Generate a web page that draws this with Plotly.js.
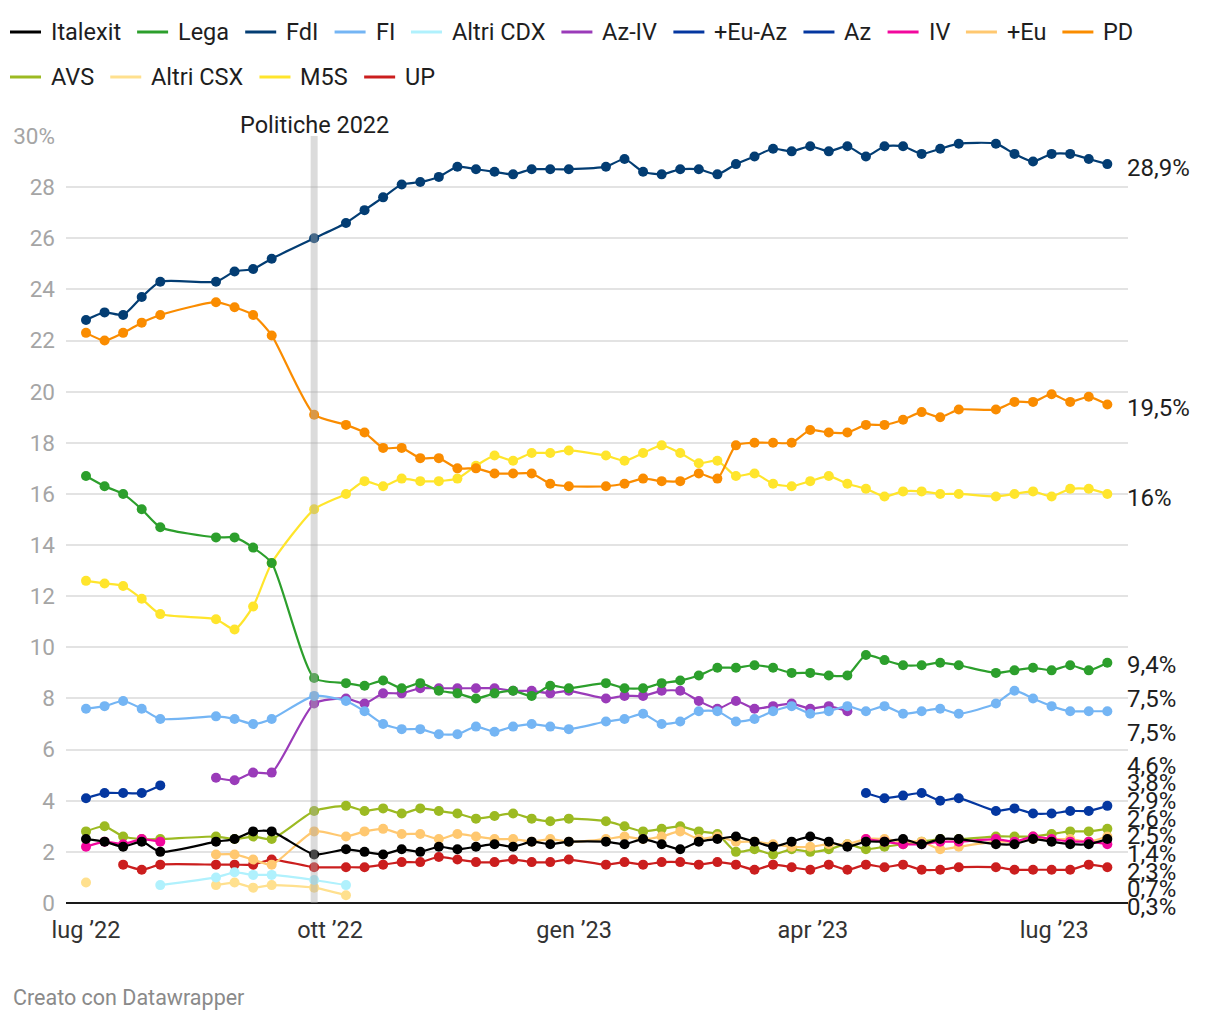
<!DOCTYPE html>
<html><head><meta charset="utf-8">
<script src="https://cdn.plot.ly/plotly-3.0.1.min.js"></script>
<style>body{margin:0;background:#fff}#chart{width:1220px;height:1020px}</style>
</head><body><div id="chart"></div>
<script>
const _ = null;
const dates = [
 '2022-07-01','2022-07-08','2022-07-15','2022-07-22','2022-07-29','2022-08-19','2022-08-26','2022-09-02','2022-09-09','2022-09-25',
 '2022-10-07','2022-10-14','2022-10-21','2022-10-28','2022-11-04','2022-11-11','2022-11-18','2022-11-25','2022-12-02','2022-12-09','2022-12-16','2022-12-23','2022-12-30',
 '2023-01-13','2023-01-20','2023-01-27','2023-02-03','2023-02-10','2023-02-17','2023-02-24','2023-03-03',
 '2023-03-10','2023-03-17','2023-03-24','2023-03-31','2023-04-07','2023-04-14','2023-04-21','2023-04-28','2023-05-05','2023-05-12','2023-05-19','2023-05-26',
 '2023-06-09','2023-06-16','2023-06-23','2023-06-30','2023-07-07','2023-07-14','2023-07-21'];

const italexit = [2.5,2.4,2.2,2.4,2.0,2.4,2.5,2.8,2.8,1.9, 2.1,2.0,1.9,2.1,2.0,2.2,2.1,2.2,2.3,2.2,2.4,2.3,2.4, 2.4,2.3,2.5,2.3,2.1,2.4,2.5,2.6, 2.4,2.2,2.4,2.6,2.4,2.2,2.4,2.4,2.5,2.3,2.5,2.5, 2.3,2.3,2.5,2.4,2.3,2.3,2.5];
const lega = [16.7,16.3,16.0,15.4,14.7,14.3,14.3,13.9,13.3,8.8, 8.6,8.5,8.7,8.4,8.6,8.3,8.2,8.0,8.2,8.3,8.1,8.5,8.4, 8.6,8.4,8.4,8.6,8.7,8.9,9.2,9.2, 9.3,9.2,9.0,9.0,8.9,8.9,9.7,9.5,9.3,9.3,9.4,9.3, 9.0,9.1,9.2,9.1,9.3,9.1,9.4];
const fdi = [22.8,23.1,23.0,23.7,24.3,24.3,24.7,24.8,25.2,26.0, 26.6,27.1,27.6,28.1,28.2,28.4,28.8,28.7,28.6,28.5,28.7,28.7,28.7, 28.8,29.1,28.6,28.5,28.7,28.7,28.5,28.9, 29.2,29.5,29.4,29.6,29.4,29.6,29.2,29.6,29.6,29.3,29.5,29.7, 29.7,29.3,29.0,29.3,29.3,29.1,28.9];
const fi = [7.6,7.7,7.9,7.6,7.2,7.3,7.2,7.0,7.2,8.1, 7.9,7.5,7.0,6.8,6.8,6.6,6.6,6.9,6.7,6.9,7.0,6.9,6.8, 7.1,7.2,7.4,7.0,7.1,7.5,7.5,7.1, 7.2,7.5,7.7,7.4,7.5,7.7,7.5,7.7,7.4,7.5,7.6,7.4, 7.8,8.3,8.0,7.7,7.5,7.5,7.5];
const altriCdx = [_,_,_,_,0.7,1.0,1.2,1.1,1.1,0.9, 0.7,_,_,_,_,_,_,_,_,_,_,_,_, _,_,_,_,_,_,_,_, _,_,_,_,_,_,_,_,_,_,_,_, _,_,_,_,_,_,_];
const azIv = [_,_,_,_,_,4.9,4.8,5.1,5.1,7.8, 8.0,7.8,8.2,8.2,8.4,8.4,8.4,8.4,8.4,8.3,8.3,8.2,8.3, 8.0,8.1,8.1,8.3,8.3,7.9,7.6,7.9, 7.6,7.7,7.8,7.6,7.7,7.5,_,_,_,_,_,_, _,_,_,_,_,_,_];
const euAz = [4.1,4.3,4.3,4.3,4.6,_,_,_,_,_, _,_,_,_,_,_,_,_,_,_,_,_,_, _,_,_,_,_,_,_,_, _,_,_,_,_,_,_,_,_,_,_,_, _,_,_,_,_,_,_];
const az = [_,_,_,_,_,_,_,_,_,_, _,_,_,_,_,_,_,_,_,_,_,_,_, _,_,_,_,_,_,_,_, _,_,_,_,_,_,4.3,4.1,4.2,4.3,4.0,4.1, 3.6,3.7,3.5,3.5,3.6,3.6,3.8];
const iv = [2.2,2.4,2.3,2.5,2.4,_,_,_,_,_, _,_,_,_,_,_,_,_,_,_,_,_,_, _,_,_,_,_,_,_,_, _,_,_,_,_,_,2.5,2.4,2.3,2.3,2.4,2.4, 2.5,2.4,2.6,2.5,2.4,2.4,2.3];
const piuEu = [_,_,_,_,_,1.9,1.9,1.7,1.5,2.8, 2.6,2.8,2.9,2.7,2.7,2.5,2.7,2.6,2.5,2.5,2.4,2.5,2.4, 2.5,2.6,2.5,2.6,2.8,2.5,2.6,2.4, 2.4,2.3,2.2,2.2,2.3,2.3,2.5,2.5,2.4,2.4,2.1,2.2, 2.4,2.4,2.5,2.5,2.5,2.4,2.6];
const pd = [22.3,22.0,22.3,22.7,23.0,23.5,23.3,23.0,22.2,19.1, 18.7,18.4,17.8,17.8,17.4,17.4,17.0,17.0,16.8,16.8,16.8,16.4,16.3, 16.3,16.4,16.6,16.5,16.5,16.8,16.6,17.9, 18.0,18.0,18.0,18.5,18.4,18.4,18.7,18.7,18.9,19.2,19.0,19.3, 19.3,19.6,19.6,19.9,19.6,19.8,19.5];
const avs = [2.8,3.0,2.6,2.5,2.5,2.6,2.5,2.6,2.5,3.6, 3.8,3.6,3.7,3.5,3.7,3.6,3.5,3.3,3.4,3.5,3.3,3.2,3.3, 3.2,3.0,2.8,2.9,3.0,2.8,2.7,2.0, 2.1,1.9,2.1,2.0,2.1,2.3,2.1,2.2,2.3,2.4,2.5,2.5, 2.6,2.6,2.6,2.7,2.8,2.8,2.9];
const altriCsx = [0.8,_,_,_,_,0.7,0.8,0.6,0.7,0.6, 0.3,_,_,_,_,_,_,_,_,_,_,_,_, _,_,_,_,_,_,_,_, _,_,_,_,_,_,_,_,_,_,_,_, _,_,_,_,_,_,_];
const m5s = [12.6,12.5,12.4,11.9,11.3,11.1,10.7,11.6,13.3,15.4, 16.0,16.5,16.3,16.6,16.5,16.5,16.6,17.1,17.5,17.3,17.6,17.6,17.7, 17.5,17.3,17.6,17.9,17.6,17.2,17.3,16.7, 16.8,16.4,16.3,16.5,16.7,16.4,16.2,15.9,16.1,16.1,16.0,16.0, 15.9,16.0,16.1,15.9,16.2,16.2,16.0];
const up = [_,_,1.5,1.3,1.5,1.5,1.5,1.5,1.7,1.4, 1.4,1.4,1.5,1.6,1.6,1.8,1.7,1.6,1.6,1.7,1.6,1.6,1.7, 1.5,1.6,1.5,1.6,1.6,1.5,1.6,1.5, 1.3,1.5,1.4,1.3,1.5,1.3,1.5,1.4,1.5,1.3,1.3,1.4, 1.4,1.3,1.3,1.3,1.3,1.5,1.4];

const seriesNames = ['Italexit','Lega','FdI','FI','Altri CDX','Az-IV','+Eu-Az','Az','IV','+Eu','PD','AVS','Altri CSX','M5S','UP'];
const seriesValues = [italexit,lega,fdi,fi,altriCdx,azIv,euAz,az,iv,piuEu,pd,avs,altriCsx,m5s,up];
const legendRow1 = ['Italexit','Lega','FdI','FI','Altri CDX','Az-IV','+Eu-Az','Az','IV','+Eu','PD'];
const legendRow2 = ['AVS','Altri CSX','M5S','UP'];

const xTickVals = ['2022-07-01','2022-10-01','2023-01-01','2023-04-01','2023-07-01'];
const xTickText = ['lug ’22','ott ’22','gen ’23','apr ’23','lug ’23'];
const yTickVals = [0,2,4,6,8,10,12,14,16,18,20,22,24,26,28,30];
const yTickText = ['0','2','4','6','8','10','12','14','16','18','20','22','24','26','28','30%'];
const electionDate = '2022-09-25';
const electionText = 'Politiche 2022';
const footerText = 'Creato con Datawrapper';
const labelOrder = ['FdI','PD','M5S','Lega','Az-IV','FI','+Eu-Az','Az','AVS','+Eu','Italexit','UP','IV','Altri CDX','Altri CSX'];

// ---- styles ----
const colors = {
 'Italexit':'#000000','Lega':'#2c9f2c','FdI':'#033d73','FI':'#74b5f4','Altri CDX':'#b0f1fd',
 'Az-IV':'#9a3bb9','+Eu-Az':'#0437a0','Az':'#0437a0','IV':'#f2079d','+Eu':'#ffc870',
 'PD':'#fa8c00','AVS':'#9cba22','Altri CSX':'#ffe08e','M5S':'#ffe52c','UP':'#cb1e1e'
};
const FONT = 'Roboto, "Open Sans", sans-serif';
const W = 1220, H = 1020;
const M = {l:66, r:92, t:136, b:117};
const plotW = W - M.l - M.r, plotH = H - M.t - M.b;
const yMax = 30;
const pxX = px => (px - M.l)/plotW;          // pixel -> paper x
const pxY = py => (M.t + plotH - py)/plotH;   // pixel -> paper y

const traces = [];
for (let i = seriesNames.length - 1; i >= 0; i--) {
  const name = seriesNames[i];
  traces.push({
    type:'scatter', mode:'lines', x:dates, y:seriesValues[i], name:name, showlegend:false,
    connectgaps:false, cliponaxis:false,
    line:{color:colors[name], width:2.2, shape:'spline', smoothing:0.6}, hoverinfo:'skip'
  });
  traces.push({
    type:'scatter', mode:'markers', x:dates, y:seriesValues[i], name:name, showlegend:false, cliponaxis:false,
    marker:{color:colors[name], size:10, line:{width:0}}, hoverinfo:'skip'
  });
}

const annotations = [];
const shapes = [];

// ---- legend (two rows, drawn as swatches + text) ----
const LEG_FS = 23.5;
const ctx = document.createElement('canvas').getContext('2d');
ctx.font = LEG_FS + 'px Roboto';
function drawLegendRow(names, rowY) {
  let x = 10;
  names.forEach(n => {
    shapes.push({type:'line', xref:'paper', yref:'paper', x0:pxX(x), x1:pxX(x+31), y0:pxY(rowY), y1:pxY(rowY),
      line:{color:colors[n], width:3}, layer:'above'});
    annotations.push({xref:'paper', yref:'paper', x:pxX(x+39), y:pxY(rowY), xanchor:'left', yanchor:'middle',
      text:n, showarrow:false, font:{family:FONT, size:LEG_FS, color:'#1e1e1e'}});
    x += 40 + ctx.measureText(n).width + 17;
  });
}
drawLegendRow(legendRow1, 32);
drawLegendRow(legendRow2, 77);

// ---- right-side value labels (dodged) ----
function lastVal(arr){ for (let k = arr.length-1; k >= 0; k--) if (arr[k] !== null) return arr[k]; return null; }
function fmt(v){ const s = Math.round(v*10)/10; return (s % 1 === 0 ? String(s) : s.toFixed(1).replace('.', ',')) + '%'; }
const toPx = v => M.t + (yMax - v)/yMax*plotH;
const GAP = 34, MINGAP = 16, LIMIT = M.t + plotH + 4, OFFSET = 4;
const lab = labelOrder.map(n => { const v = lastVal(seriesValues[seriesNames.indexOf(n)]); return {name:n, v:v, t:toPx(v)+OFFSET}; });
const nL = lab.length;
// packed-from-bottom bound
const B = new Array(nL); B[nL-1] = LIMIT;
for (let i = nL-2; i >= 0; i--) B[i] = B[i+1] - MINGAP;
// find first label that the bottom squeeze reaches
let F = lab[0].t, k = nL;
for (let i = 0; i < nL; i++) { if (i > 0) F = Math.max(lab[i].t, F + GAP); if (F >= B[i]) { k = i; break; } }
// free labels: centered clusters
const pos = new Array(nL);
const clusters = [];
const cTop = c => c.sum/c.n - (c.n-1)*GAP/2;
for (let i = 0; i < k; i++) {
  clusters.push({idx:[i], sum:lab[i].t, n:1});
  while (clusters.length > 1) {
    const a = clusters[clusters.length-2], b = clusters[clusters.length-1];
    if (cTop(a) + a.n*GAP > cTop(b)) clusters.splice(clusters.length-2, 2, {idx:a.idx.concat(b.idx), sum:a.sum+b.sum, n:a.n+b.n});
    else break;
  }
}
clusters.forEach(c => c.idx.forEach((i, j) => { pos[i] = cTop(c) + j*GAP; }));
// squeezed labels: blend of even spread and bottom packing
if (k < nL) {
  const start = k > 0 ? pos[k-1] : M.t;
  const g = (LIMIT - start)/(nL - k);
  for (let i = k; i < nL; i++) pos[i] = ((start + g*(i-k+1)) + B[i])/2;
}
lab.forEach((l,i) => {
  annotations.push({xref:'paper', x:1, xanchor:'left', xshift:-3, yref:'paper', y:pxY(pos[i]), yanchor:'middle',
    text:fmt(l.v), showarrow:false, font:{family:FONT, size:24, color:'#1e1e1e'}});
});

// ---- election marker, footer ----
shapes.push({type:'line', xref:'x', x0:electionDate, x1:electionDate, yref:'paper', y0:0, y1:1,
  line:{color:'rgba(170,170,170,0.42)', width:7}, layer:'above'});
annotations.push({xref:'x', x:electionDate, yref:'paper', y:1, yanchor:'bottom', xanchor:'center',
  text:electionText, showarrow:false, font:{family:FONT, size:23.5, color:'#1e1e1e'}, yshift:-5});
annotations.push({xref:'paper', x:pxX(11), yref:'paper', y:pxY(997), xanchor:'left', yanchor:'middle',
  text:footerText, showarrow:false, font:{family:FONT, size:21.5, color:'#8a8a8a'}});

const layout = {
  width:W, height:H, margin:M, paper_bgcolor:'#fff', plot_bgcolor:'#fff',
  font:{family:FONT, color:'#222'}, hovermode:false, showlegend:false,
  xaxis:{type:'date', range:['2022-06-23 11:00','2023-07-28 19:00'], tickvals:xTickVals, ticktext:xTickText,
    showgrid:false, zeroline:false, showline:false, ticks:'', tickfont:{family:FONT, size:23.5, color:'#333'}, ticklabelstandoff:10},
  yaxis:{range:[0,yMax], tickvals:yTickVals, ticktext:yTickText, showgrid:true, gridcolor:'#e3e3e3', gridwidth:2,
    zeroline:true, zerolinecolor:'#1a1a1a', zerolinewidth:2, showline:false, ticks:'',
    tickfont:{family:FONT, size:22.5, color:'#a5a5a5'}, ticklabelstandoff:10},
  shapes:shapes, annotations:annotations
};
Plotly.newPlot('chart', traces, layout, {displayModeBar:false, staticPlot:true});
</script></body></html>
